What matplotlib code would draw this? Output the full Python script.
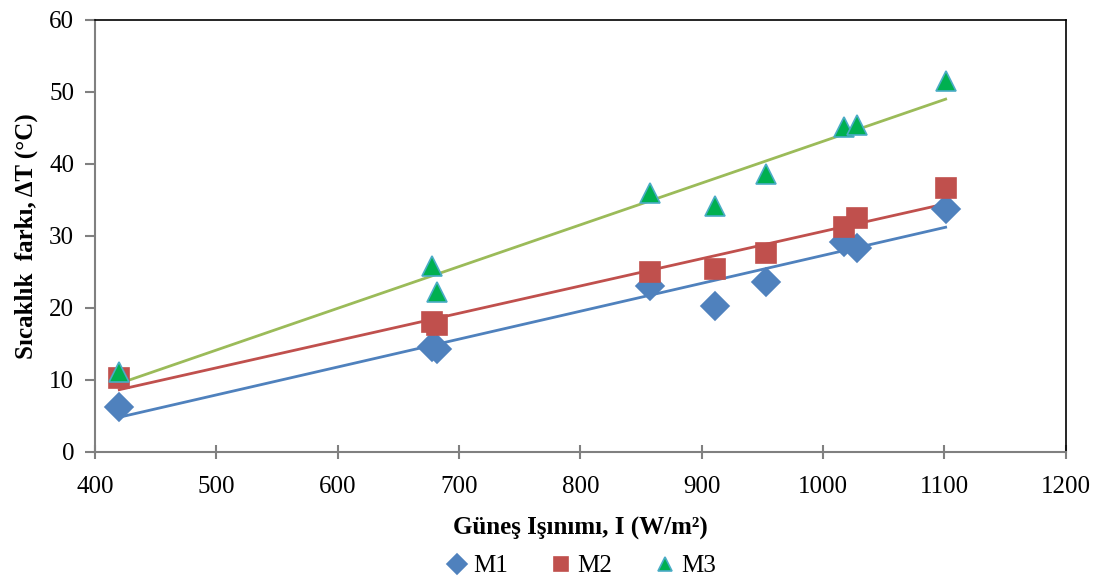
import matplotlib.pyplot as plt
import numpy as np

plt.rcParams["font.family"] = ["Liberation Serif", "DejaVu Serif"]

# Güneş ışınımı (W/m²) ve sıcaklık farkları
isinim = [420, 678, 682, 857, 911, 953, 1017, 1028, 1101]
m1 = [6.2, 14.6, 14.3, 23.0, 20.3, 23.6, 29.2, 28.3, 33.8]
m2 = [10.3, 18.0, 17.6, 25.0, 25.4, 27.7, 31.3, 32.5, 36.7]
m3 = [11.1, 25.8, 22.2, 36.0, 34.2, 38.6, 45.1, 45.4, 51.5]

fig = plt.figure(figsize=(11.01, 5.78), dpi=100)
ax = fig.add_axes([0.0863, 0.218, 0.8817, 0.7474])

seriler = [
    ("M1", m1, "D", "#4F81BD", "#4F81BD", "#4F81BD", 14),
    ("M2", m2, "s", "#C0504D", "#C0504D", "#C0504D", 14),
    ("M3", m3, "^", "#00B050", "#4BACC6", "#9BBB59", 14),
]

x = np.array(isinim, dtype=float)
for ad, y, mk, renk, kenar, trend, ms in seriler:
    ax.plot(x, y, ls="none", marker=mk, ms=ms, mfc=renk, mec=kenar,
            mew=1.2, label=ad, zorder=3)
    a, b = np.polyfit(x, y, 1)
    xs = np.array([x.min(), x.max()])
    ax.plot(xs, a * xs + b, color=trend, lw=2, zorder=2)

ax.set_xlim(400, 1200)
ax.set_ylim(0, 60)
ax.set_xticks(range(400, 1201, 100))
ax.set_yticks(range(0, 61, 10))
ax.tick_params(labelsize=18, width=1.5, color="#808080")
ax.tick_params(axis="x", direction="inout", length=10, pad=12)
ax.tick_params(axis="y", direction="out", length=7, pad=8)

for s in ["left", "bottom"]:
    ax.spines[s].set_color("#808080")
    ax.spines[s].set_linewidth(1.5)
for s in ["top", "right"]:
    ax.spines[s].set_color("black")
    ax.spines[s].set_linewidth(1.2)

ax.set_xlabel("Güneş Işınımı, I (W/m²)", fontsize=18, fontweight="bold",
              labelpad=14)
ax.set_ylabel("Sıcaklık  farkı, ΔT (°C)", fontsize=18, fontweight="bold",
              labelpad=8)

ax.legend(loc="upper center", bbox_to_anchor=(0.5, -0.215), ncol=3,
          frameon=False, fontsize=18, handlelength=1.0, handletextpad=0.15,
          columnspacing=1.6, markerscale=0.75, borderaxespad=0)

fig.savefig("out.png", dpi=100)
